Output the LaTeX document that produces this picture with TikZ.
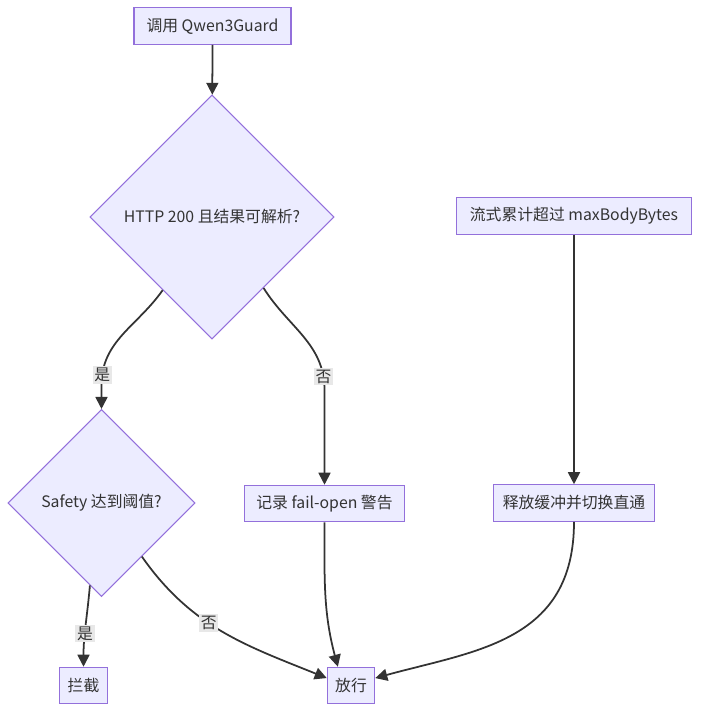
\documentclass[tikz,border=0pt]{standalone}
\usepackage{fontspec}
\setmainfont{Noto Sans CJK SC}
\usetikzlibrary{positioning, arrows.meta, shapes.geometric}

\definecolor{nodefill}{HTML}{ECECFF}
\definecolor{nodeline}{HTML}{9370DB}
\definecolor{edgeline}{HTML}{333333}
\definecolor{labelfill}{HTML}{E8E8E8}

\begin{document}
\begin{tikzpicture}[
    arrow/.style={-{Triangle[length=2.4mm, width=2.4mm]}, line width=1pt, draw=edgeline},
    block/.style={rectangle, draw=nodeline, fill=nodefill, line width=0.6pt,
                  minimum height=0.73cm, inner sep=0pt, text=edgeline,
                  font=\fontsize{9}{11}\selectfont},
    decision/.style={diamond, aspect=1, draw=nodeline, fill=nodefill, line width=0.6pt,
                  inner sep=0pt, text=edgeline, font=\fontsize{9}{11}\selectfont},
    edgelabel/.style={fill=labelfill, inner sep=1pt, text=edgeline,
                  font=\fontsize{9}{11}\selectfont}
]
    \useasboundingbox (0, 0) rectangle (14, -14.24);

    % === Main check ===
    \node[block, minimum width=3.14cm] (call) at (4.25, -0.52) {调用 Qwen3Guard};
    \node[decision, minimum width=4.88cm, minimum height=4.88cm] (httpok) at (4.24, -4.34)
        {HTTP 200 且结果可解析?};
    \node[decision, minimum width=3.74cm, minimum height=3.74cm] (safety) at (2.03, -10.06)
        {Safety 达到阈值?};
    \node[block, minimum width=3.19cm] (failopen) at (6.49, -10.07) {记录 fail-open 警告};
    \node[block, minimum width=0.95cm] (block) at (1.67, -13.71) {拦截};
    \node[block, minimum width=0.95cm] (pass) at (7.02, -13.71) {放行};

    % === Body size limit ===
    \node[block, minimum width=4.71cm] (overflow) at (11.48, -4.32) {流式累计超过 maxBodyBytes};
    \node[block, minimum width=3.21cm] (release) at (11.48, -10.06) {释放缓冲并切换直通};

    % Connectors
    \draw[arrow] (call) -- (httpok);
    \draw[arrow] (httpok.236) to[out=-125, in=90] node[edgelabel, pos=0.92] {是}
        (safety.north |- 0, -7.7) -- (safety.north);
    \draw[arrow] (httpok.306) to[out=-58, in=90] node[edgelabel, pos=0.9] {否}
        (failopen.north |- 0, -7.8) -- (failopen.north);
    \draw[arrow] (safety.262) to[out=-95, in=90] node[edgelabel, pos=0.6] {是} (block.north);
    \draw[arrow] (safety.307) to[out=-55, in=158] node[edgelabel, pos=0.42] {否} (pass.163);
    \draw[arrow] (failopen.south) to[out=-90, in=105] (pass.125);
    \draw[arrow] (overflow) -- (release);
    \draw[arrow] (release.south) .. controls +(0, -2.4) and +(2.0, 0.55) .. (pass.17);

\end{tikzpicture}
\end{document}
